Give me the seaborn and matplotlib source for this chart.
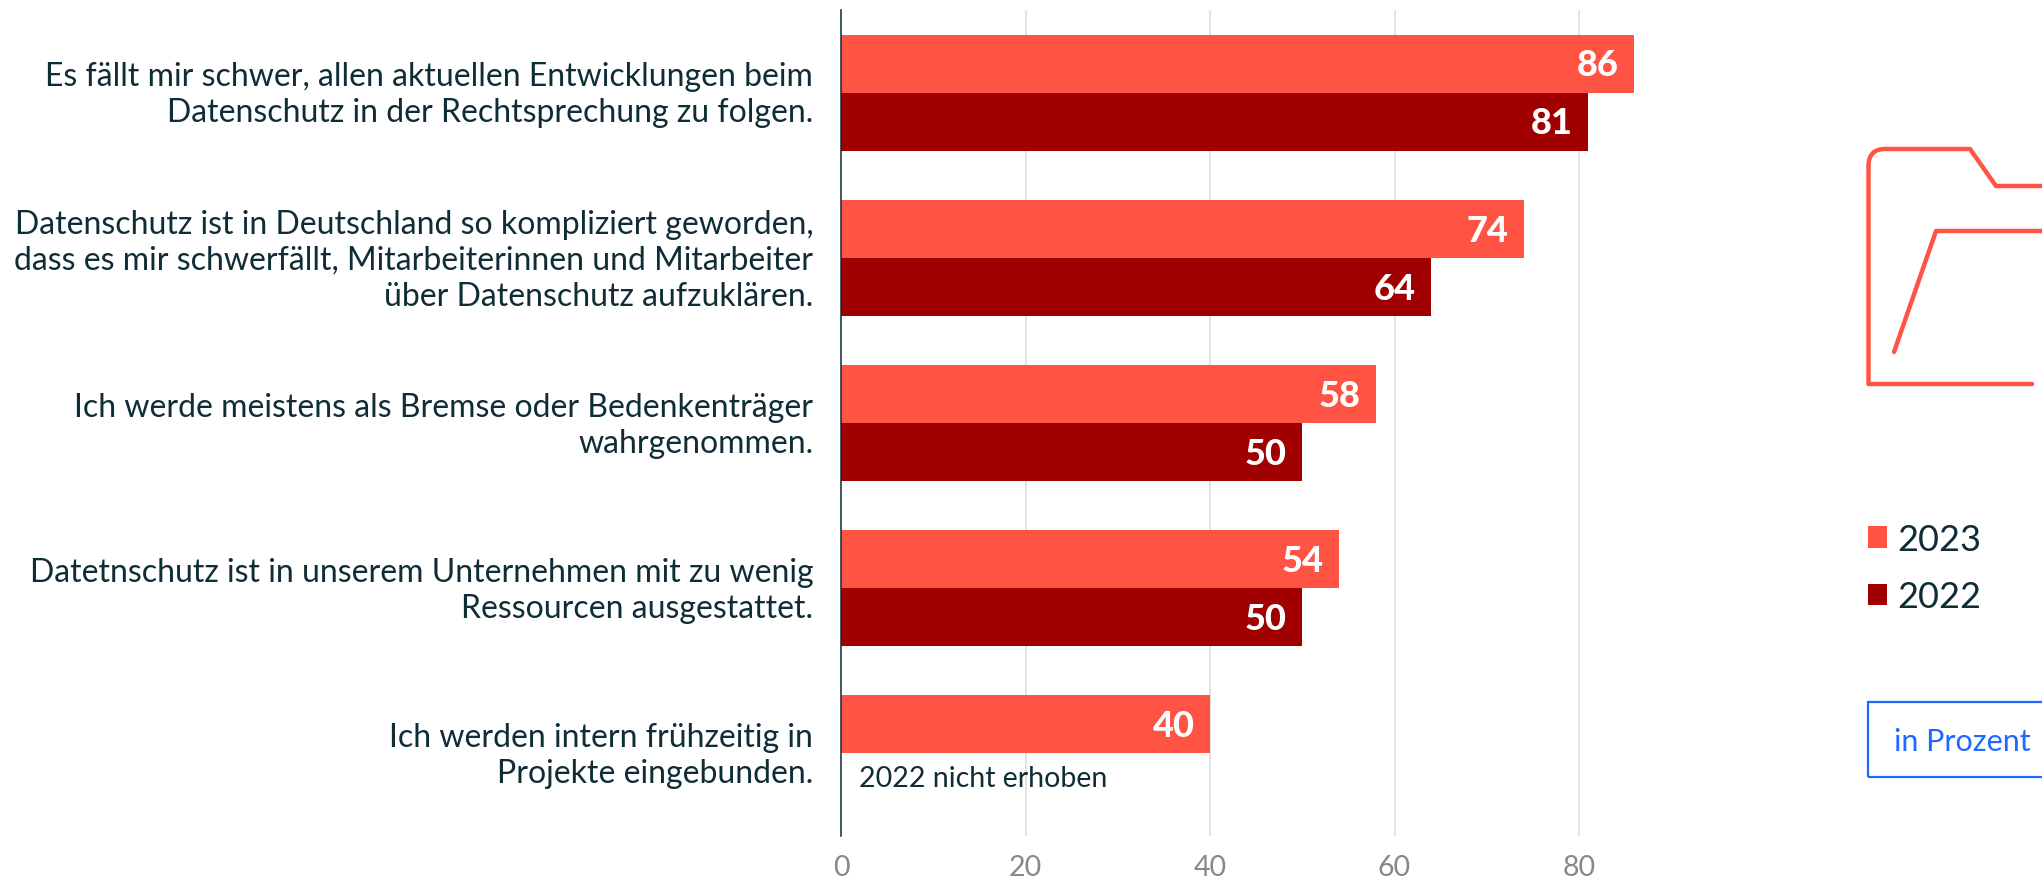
import matplotlib
matplotlib.use("Agg")
import matplotlib.pyplot as plt
import seaborn as sns
import pandas as pd
from matplotlib.path import Path
from matplotlib.patches import PathPatch, Rectangle, Patch
from matplotlib.transforms import ScaledTranslation

categories = [
    "Es fällt mir schwer, allen aktuellen Entwicklungen beim\nDatenschutz in der Rechtsprechung zu folgen.",
    "Datenschutz ist in Deutschland so kompliziert geworden,\ndass es mir schwerfällt, Mitarbeiterinnen und Mitarbeiter\nüber Datenschutz aufzuklären.",
    "Ich werde meistens als Bremse oder Bedenkenträger\nwahrgenommen.",
    "Datetnschutz ist in unserem Unternehmen mit zu wenig\nRessourcen ausgestattet.",
    "Ich werden intern frühzeitig in\nProjekte eingebunden.",
]
values_2023 = [86, 74, 58, 54, 40]
values_2022 = [81, 64, 50, 50, None]
years = ["2023", "2022"]
xticks = [0, 20, 40, 60, 80]

RED = "#FF5344"
DARK = "#A00000"
INK = "#0F2D36"
BLUE = "#1F69FF"
W, H = 2042, 878

sns.set_theme(style="white")
plt.rcParams["font.family"] = ["Lato", "DejaVu Sans"]

df = pd.DataFrame({
    "Aussage": categories * 2,
    "Jahr": [years[0]] * 5 + [years[1]] * 5,
    "Wert": values_2023 + values_2022,
})

fig = plt.figure(figsize=(W / 100, H / 100), dpi=100, facecolor="white")
ax = fig.add_axes([841 / W, 1 - 837 / H, (1700 - 841) / W, (837 - 11) / H])

sns.barplot(data=df, y="Aussage", x="Wert", hue="Jahr", hue_order=years,
            palette=[RED, DARK], width=0.702, gap=0, saturation=1,
            order=categories, orient="h", ax=ax, legend=False, zorder=3,
            errorbar=None, edgecolor="none", linewidth=0)

ax.set_xlim(0, (1700 - 841) / 9.225)
ax.set_ylim(4.5, -0.5)
ax.set_xlabel("")
ax.set_ylabel("")
ax.set_xticks(xticks)
ax.xaxis.grid(True, color="#DDDDDD", linewidth=1.1, zorder=0)
ax.set_axisbelow(True)
for side in ["top", "right", "bottom"]:
    ax.spines[side].set_visible(False)
ax.spines["left"].set_color(INK)
ax.spines["left"].set_linewidth(1.1)
ax.spines["left"].set_zorder(5)
ax.tick_params(axis="y", length=0, pad=20, labelsize=23, labelcolor=INK)
ax.tick_params(axis="x", length=0, pad=13, labelsize=20.5, labelcolor="#888888")
lift = ScaledTranslation(0, 3 / 72, fig.dpi_scale_trans)
for lab in ax.get_yticklabels():
    lab.set_multialignment("right")
    lab.set_linespacing(1.25)
    lab.set_transform(lab.get_transform() + lift)

for cont in ax.containers:
    for ann in ax.bar_label(cont, padding=-11, color="white",
                            fontsize=26, fontweight="black"):
        ann.set_ha("right")
        ann.set_va("center")
        ann.xyann = (ann.xyann[0], -1)

ax.annotate("2022 nicht erhoben", xy=(0, 4), xycoords=("data", "data"),
            xytext=(13, -18), textcoords="offset points",
            ha="left", va="center", fontsize=20.5, color=INK, zorder=6)


def fx(x):
    return x / W


def fy(y):
    return 1 - y / H


folder = [
    (Path.MOVETO, (2032, 385)), (Path.LINETO, (1868.5, 385)),
    (Path.LINETO, (1868.5, 167)), (Path.CURVE3, (1868.5, 150)),
    (Path.CURVE3, (1885, 150)), (Path.LINETO, (1970, 150)),
    (Path.LINETO, (1996, 187)), (Path.LINETO, (2050, 187)),
    (Path.MOVETO, (1894, 353)), (Path.LINETO, (1936, 232)),
    (Path.LINETO, (2050, 232)),
]
codes = [c for c, _ in folder]
verts = [(fx(x), fy(y)) for _, (x, y) in folder]
fig.add_artist(PathPatch(Path(verts, codes), fill=False, edgecolor=RED,
                         linewidth=3.2, capstyle="round", joinstyle="round",
                         transform=fig.transFigure))

handles = [Patch(facecolor=RED, edgecolor="none"), Patch(facecolor=DARK, edgecolor="none")]
fig.legend(handles, years, loc="upper left", bbox_to_anchor=(fx(1857), fy(513)),
           frameon=False, fontsize=26, handlelength=0.53, handleheight=0.53,
           handletextpad=0.28, labelspacing=0.67, labelcolor=INK,
           borderpad=0.3, borderaxespad=0)

fig.add_artist(Rectangle((fx(1868), fy(778)), fx(2060 - 1868), 75 / H,
                         fill=False, edgecolor=BLUE, linewidth=1.6,
                         transform=fig.transFigure))
fig.text(fx(1894), fy(742), "in Prozent", color=BLUE, fontsize=22,
         ha="left", va="center")

fig.savefig("out.png", dpi=100, facecolor="white")
